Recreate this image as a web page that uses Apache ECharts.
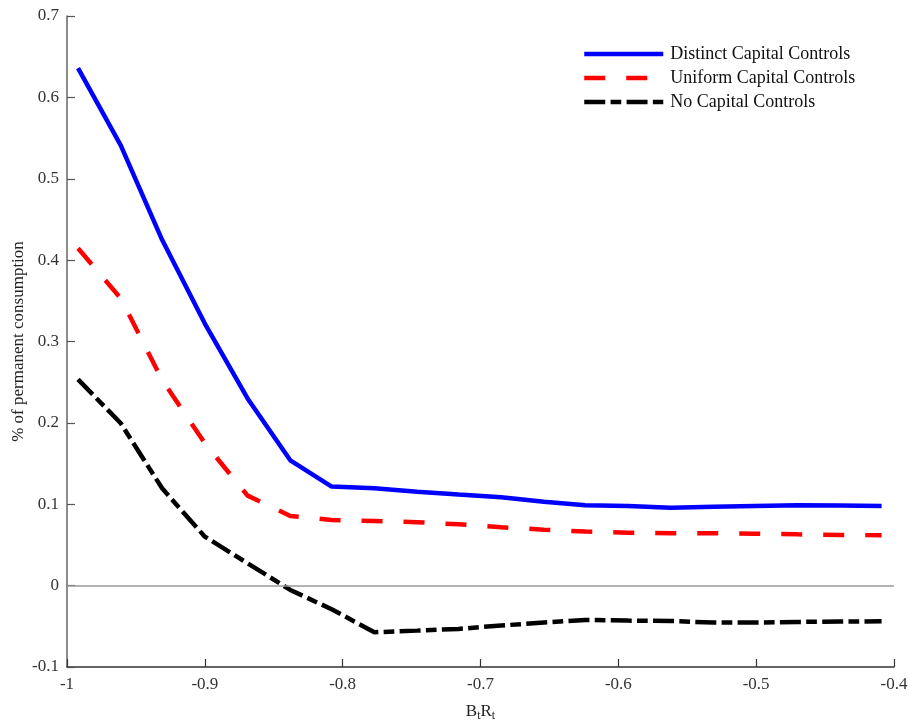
<!DOCTYPE html>
<html><head><meta charset="utf-8">
<script src="https://cdn.jsdelivr.net/npm/echarts@6/dist/echarts.min.js"></script>
<style>html,body{margin:0;padding:0;background:#fff}#c{width:910px;height:726px}</style>
</head><body><div id="c"></div>
<script>
const btRt = [-0.992, -0.961, -0.931, -0.900, -0.869, -0.838, -0.808, -0.777, -0.746, -0.716,
              -0.685, -0.654, -0.624, -0.593, -0.562, -0.531, -0.501, -0.470, -0.439, -0.409];
const distinct = [0.636, 0.541, 0.425, 0.322, 0.230, 0.154, 0.1217, 0.1196, 0.1155, 0.112,
                  0.1086, 0.103, 0.0988, 0.0979, 0.0958, 0.097, 0.098, 0.0988, 0.0985, 0.098];
const uniform = [0.4145, 0.353, 0.2527, 0.175, 0.1106, 0.0856, 0.0807, 0.0795, 0.0779, 0.0754,
                 0.0717, 0.0688, 0.0664, 0.0651, 0.0643, 0.0643, 0.0639, 0.063, 0.0623, 0.0619];
const noControls = [0.2535, 0.1995, 0.1196, 0.0602, 0.0275, -0.0053, -0.029, -0.0573, -0.0553, -0.0532,
                    -0.049, -0.0454, -0.0421, -0.043, -0.0434, -0.0454, -0.0454, -0.0446, -0.0442, -0.0438];
const seriesNames = ['Distinct Capital Controls', 'Uniform Capital Controls', 'No Capital Controls'];

const pairs = arr => btRt.map((x, i) => [x, arr[i]]);
const font = 'Liberation Serif';
const chart = echarts.init(document.getElementById('c'), null, {renderer: 'canvas'});
chart.setOption({
  animation: false,
  backgroundColor: '#fff',
  grid: {left: 67, right: 16, top: 16, bottom: 59, containLabel: false, outerBoundsMode: 'none'},
  legend: {
    orient: 'vertical', left: 582, top: 45, padding: 0, itemWidth: 79, itemHeight: 14, itemGap: 6,
    itemStyle: {opacity: 0},
    lineStyle: {width: 4.5},
    textStyle: {fontFamily: font, fontSize: 18, color: '#111', padding: [0, 0, 0, 2]},
    data: seriesNames
  },
  xAxis: {
    type: 'value', min: -1, max: -0.4, interval: 0.1,
    name: 'B{s|t}R{s|t}', nameLocation: 'middle', nameGap: 34, nameMoveOverlap: false,
    nameTextStyle: {fontFamily: font, fontSize: 17, color: '#222',
      rich: {s: {fontFamily: font, fontSize: 12, color: '#222', verticalAlign: 'bottom', padding: [9, 0, 0, 0]}}},
    axisLine: {show: true, onZero: false, lineStyle: {color: '#333', width: 1.5}},
    axisTick: {show: true, inside: true, length: 8, lineStyle: {color: '#333', width: 1.2}},
    axisLabel: {fontFamily: font, fontSize: 17, color: '#333', margin: 9},
    splitLine: {show: false}
  },
  yAxis: {
    type: 'value', min: -0.1, max: 0.7, interval: 0.1,
    name: '% of permanent consumption', nameLocation: 'middle', nameGap: 40, nameMoveOverlap: false,
    nameTextStyle: {fontFamily: font, fontSize: 17, color: '#222'},
    axisLine: {show: true, lineStyle: {color: '#666', width: 1.5}},
    axisTick: {show: true, inside: true, length: 8, lineStyle: {color: '#555', width: 1.2}},
    axisLabel: {fontFamily: font, fontSize: 17, color: '#333', margin: 8},
    splitLine: {show: false}
  },
  series: [
    {name: seriesNames[0], type: 'line', data: pairs(distinct), symbol: 'none', z: 5,
     lineStyle: {color: '#0000ff', width: 4.5}, itemStyle: {color: '#0000ff'},
     markLine: {silent: true, symbol: 'none', label: {show: false}, animation: false,
       lineStyle: {color: '#999', width: 1.5, type: 'solid'}, data: [{yAxis: 0}]}},
    {name: seriesNames[1], type: 'line', data: pairs(uniform), symbol: 'none', z: 4,
     lineStyle: {color: '#ff0000', width: 4.5, type: [21, 21]}, itemStyle: {color: '#ff0000'}},
    {name: seriesNames[2], type: 'line', data: pairs(noControls), symbol: 'none', z: 3,
     lineStyle: {color: '#000000', width: 4.5, type: [21, 5.3, 10.7, 5.3]}, itemStyle: {color: '#000'}}
  ]
});
</script></body></html>
